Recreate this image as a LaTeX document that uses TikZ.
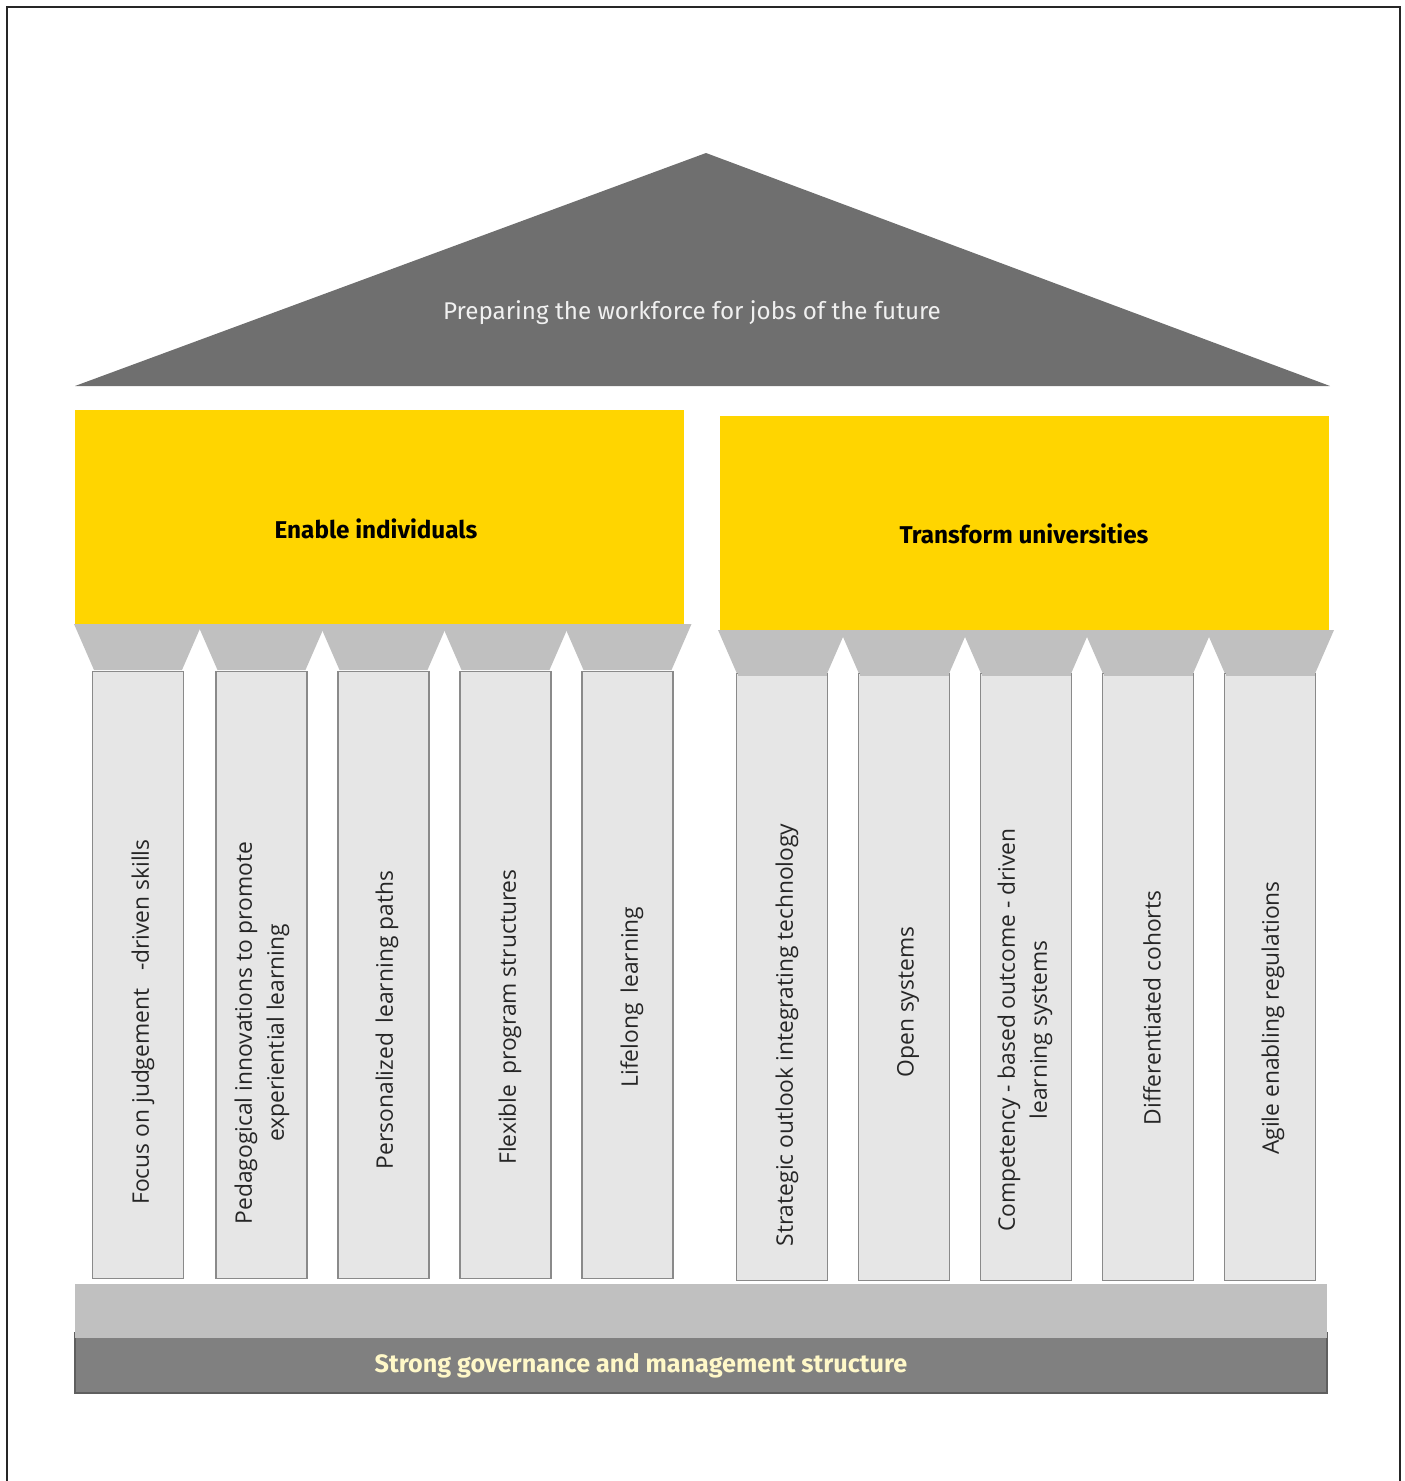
\documentclass[tikz,border=0pt]{standalone}
\usepackage{fontspec}
\setmainfont{Open Sans}
\newfontfamily\headfont{Fira Sans}
\definecolor{roofgray}{HTML}{6F6F6F}
\definecolor{eyyellow}{HTML}{FFD500}
\definecolor{capgray}{HTML}{C0C0C0}
\definecolor{shaftgray}{HTML}{E6E6E6}
\definecolor{shaftline}{HTML}{8A8A8A}
\definecolor{basedark}{HTML}{808080}
\definecolor{baseline}{HTML}{5F5F5F}
\definecolor{cream}{HTML}{FFF8C8}
\begin{document}
\begin{tikzpicture}[x=1pt,y=-1pt,
  pillar/.style={draw=shaftline,line width=1.6pt,fill=shaftgray,minimum width=91pt,minimum height=607pt,inner sep=0pt},
  coltext/.style={rotate=90,align=center,font=\fontsize{22.8}{32}\selectfont,text=black!85},
  banner/.style={fill=eyyellow,minimum width=609pt,minimum height=214pt,inner sep=0pt},
  headtext/.style={font=\headfont\bfseries\fontsize{24.3}{28}\selectfont}]
\useasboundingbox (0,0) rectangle (1405,1481);
% frame
\draw[line width=1.8pt,black!85] (7,1485) -- (7,7) -- (1400,7) -- (1400,1485);
% roof
\fill[roofgray] (75,386) -- (706,153) -- (1330,386) -- cycle;
\node[text=white!94!black,font=\headfont\fontsize{24.2}{28}\selectfont] (roof) at (692,313) {Preparing the workforce for jobs of the future};
% the two beams
\node[banner] (enable) at (379.5,517) {};
\node[banner] (transform) at (1024.5,522.5) {};
\node[headtext] (enabletxt) at (376,529) {Enable individuals};
\node[headtext] (transformtxt) at (1024,534) {Transform universities};
% capitals
\foreach \cx in {138,261.5,383.5,505.5,627.5}
  \fill[capgray] (\cx-64,624) -- (\cx+64,624) -- (\cx+44,670) -- (\cx-44,670) -- cycle;
\foreach \cx in {782,904,1026,1148,1270}
  \fill[capgray] (\cx-64,630) -- (\cx+64,630) -- (\cx+44,676) -- (\cx-44,676) -- cycle;
% left pillars
\node[pillar,anchor=north] (p1) at (138,670.5) {};
\node[pillar,anchor=north] (p2) at (261.5,670.5) {};
\node[pillar,anchor=north] (p3) at (383.5,670.5) {};
\node[pillar,anchor=north] (p4) at (505.5,670.5) {};
\node[pillar,anchor=north] (p5) at (627.5,670.5) {};
% right pillars
\node[pillar,anchor=north] (p6) at (782,672.5) {};
\node[pillar,anchor=north] (p7) at (904,672.5) {};
\node[pillar,anchor=north] (p8) at (1026,672.5) {};
\node[pillar,anchor=north] (p9) at (1148,672.5) {};
\node[pillar,anchor=north] (p10) at (1270,672.5) {};
% caps over the pillar tops
\foreach \cx in {782,904,1026,1148,1270}
  \fill[capgray] (\cx-44.5,672) rectangle (\cx+44.5,676);
% pillar texts
\node[coltext] (t1) at (143,1022) {Focus on judgement \ \ -driven skills};
\node[coltext] (t2) at (262,1033) {Pedagogical innovations to promote\\experiential learning};
\node[coltext] (t3) at (387,1020) {Personalized \,learning paths};
\node[coltext] (t4) at (510,1017) {Flexible \,program structures};
\node[coltext] (t5) at (632,997) {Lifelong \,learning};
\node[coltext] (t6) at (787,1035) {Strategic outlook integrating technology};
\node[coltext] (t7) at (908,1002) {Open systems};
\node[coltext] (t8) at (1025,1030) {Competency - based outcome - driven\\learning systems};
\node[coltext] (t9) at (1152,1008) {Differentiated cohorts};
\node[coltext] (t10) at (1273,1018) {Agile enabling regulations};
% foundation
\node[fill=basedark,draw=baseline,line width=2pt,minimum width=1252pt,minimum height=60pt,inner sep=0pt] (base) at (701,1362.5) {};
\fill[capgray] (75,1284) rectangle (1327,1338);
\node[text=cream,headtext,font=\headfont\bfseries\fontsize{25.2}{29}\selectfont] (basetxt) at (641,1366) {Strong governance and management structure};
\end{tikzpicture}
\end{document}
